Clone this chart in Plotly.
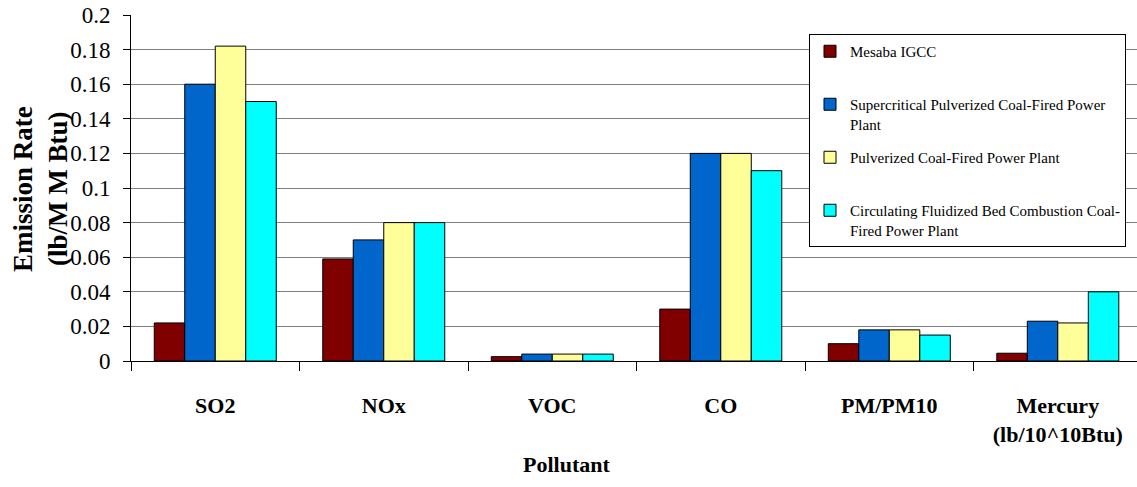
import plotly.graph_objects as go

categories = ["SO2", "NOx", "VOC", "CO", "PM/PM10", "Mercury<br>(lb/10^10Btu)"]
series_names = [
    "Mesaba IGCC<br> ",
    "Supercritical Pulverized Coal-Fired Power<br>Plant",
    "Pulverized Coal-Fired Power Plant<br> ",
    "Circulating Fluidized Bed Combustion Coal-<br>Fired Power Plant",
]
mesaba = [0.022, 0.059, 0.0025, 0.030, 0.010, 0.0045]
supercritical = [0.160, 0.070, 0.004, 0.120, 0.018, 0.023]
pulverized = [0.182, 0.080, 0.004, 0.120, 0.018, 0.022]
circulating = [0.150, 0.080, 0.004, 0.110, 0.015, 0.040]
colors = ["#800000", "#0066CC", "#FFFF99", "#00FFFF"]
y_ticks = [0, 0.02, 0.04, 0.06, 0.08, 0.1, 0.12, 0.14, 0.16, 0.18, 0.2]
y_title = ["Emission Rate", "(lb/M M Btu)"]

FONT = "'Liberation Serif', 'Times New Roman', serif"
W, H = 1137, 487
L, R, T, B = 131, 0, 15, 126
pw, ph = W - L - R, H - T - B

fig = go.Figure()
for i, (name, vals) in enumerate(zip(series_names, [mesaba, supercritical, pulverized, circulating])):
    fig.add_trace(go.Bar(
        x=categories, y=vals, name=name, legendgroup=f"g{i}",
        marker=dict(color=colors[i], line=dict(color="black", width=1)),
    ))

title_annots = [
    dict(text=f"<b>{t}</b>", xref="paper", yref="paper",
         x=(xp - L) / pw, y=(361 - 189) / ph, xanchor="center", yanchor="middle",
         textangle=-90, showarrow=False, font=dict(family=FONT, size=27, color="black"))
    for t, xp in zip(y_title, [23, 58])
]

fig.update_layout(
    width=W, height=H,
    margin=dict(l=L, r=R, t=T, b=B),
    paper_bgcolor="white", plot_bgcolor="white",
    barmode="group", bargap=0.276, bargroupgap=0,
    font=dict(family=FONT, color="black"),
    legend=dict(
        x=(809 - L) / pw, y=(361 - 34) / ph, xanchor="left", yanchor="top",
        bgcolor="white", bordercolor="black", borderwidth=1,
        font=dict(family=FONT, size=15, color="black"),
        tracegroupgap=11, valign="top",
    ),
    xaxis=dict(
        range=[-0.5, 5.47], tickson="boundaries", ticks="outside", ticklen=9,
        tickcolor="black", showline=True, linecolor="black", linewidth=1,
        showgrid=False, tickfont=dict(family=FONT, size=22, color="black"),
        ticklabelstandoff=25, tickangle=0,
        tickprefix="<b>", ticksuffix="</b>",
    ),
    yaxis=dict(
        range=[0, 0.2], tickvals=y_ticks, ticktext=[f"{v:g}" for v in y_ticks],
        ticks="outside", ticklen=7, tickcolor="black",
        showline=True, linecolor="black", linewidth=1,
        showgrid=True, gridcolor="#7f7f7f", gridwidth=1, zeroline=False,
        tickfont=dict(family=FONT, size=23, color="black"), ticklabelstandoff=8,
    ),
    annotations=title_annots + [
        dict(text="<b>Pollutant</b>", xref="paper", yref="paper",
             x=(566 - L) / pw, y=-(464 - 361) / ph, xanchor="center", yanchor="middle",
             showarrow=False, font=dict(family=FONT, size=22, color="black")),
    ],
)

fig.write_html("out.html", config={"displayModeBar": False},
               post_script="document.body.style.margin='0';document.body.style.overflow='hidden';")
